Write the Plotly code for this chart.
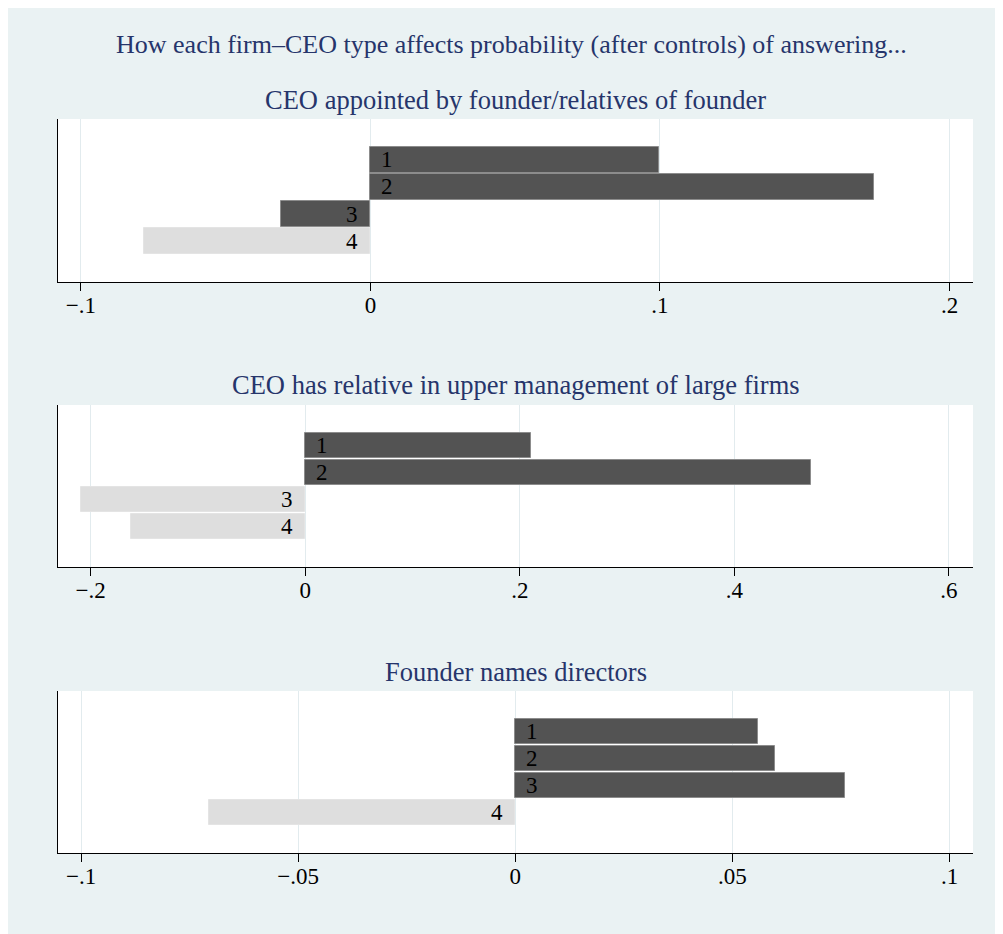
import plotly.graph_objects as go

# ---- data ----
main_title = "How each firm\u2013CEO type affects probability (after controls) of answering..."
panel_titles = [
    "CEO appointed by founder/relatives of founder",
    "CEO has relative in upper management of large firms",
    "Founder names directors",
]
categories = [1, 2, 3, 4]
values_p1 = [0.0995, 0.1739, -0.0310, -0.0782]
values_p2 = [0.2102, 0.4710, -0.2092, -0.1624]
values_p3 = [0.0559, 0.0598, 0.0759, -0.0705]
shade_p1 = ["dark", "dark", "dark", "light"]
shade_p2 = ["dark", "dark", "light", "light"]
shade_p3 = ["dark", "dark", "dark", "light"]
tickvals_p1 = [-0.1, 0, 0.1, 0.2]
ticktext_p1 = ["\u2212.1", "0", ".1", ".2"]
tickvals_p2 = [-0.2, 0, 0.2, 0.4, 0.6]
ticktext_p2 = ["\u2212.2", "0", ".2", ".4", ".6"]
tickvals_p3 = [-0.1, -0.05, 0, 0.05, 0.1]
ticktext_p3 = ["\u2212.1", "\u2212.05", "0", ".05", ".1"]
xranges = [[-0.1079, 0.2081], [-0.2305, 0.6224], [-0.1053, 0.1054]]

# ---- style ----
OFF = 8                     # page margin of the browser body
W, H = 1003 - OFF, 934 - OFF
BG = "#eaf2f3"
GRID = "#e2ebee"
NAVY = "#26356b"
FONT = "Liberation Serif, Times New Roman, serif"
FILL = {"dark": "#535353", "light": "#dedede"}
EDGE = {"dark": "#8c8c8c", "light": "#e4e4e4"}

# screen-pixel layout (top, bottom) of each plot region
panels_px = [(119, 282), (405, 567), (691, 853)]
x_left, x_right = 58, 973
title_y_px = [100, 385, 672]


def px(v):
    return v - OFF


values = [values_p1, values_p2, values_p3]
shades = [shade_p1, shade_p2, shade_p3]
tvals = [tickvals_p1, tickvals_p2, tickvals_p3]
ttext = [ticktext_p1, ticktext_p2, ticktext_p3]

fig = go.Figure()
annotations = []
layout_axes = {}

for i in range(3):
    sfx = "" if i == 0 else str(i + 1)
    xa, ya = "x" + sfx, "y" + sfx
    fig.add_trace(go.Bar(
        x=values[i], y=categories, orientation="h",
        width=0.95,
        marker=dict(color=[FILL[s] for s in shades[i]],
                    line=dict(color=[EDGE[s] for s in shades[i]], width=1)),
        xaxis=xa, yaxis=ya, showlegend=False, hoverinfo="x+y",
    ))
    top, bot = panels_px[i]
    layout_axes["xaxis" + sfx] = dict(
        domain=[px(x_left) / W, px(x_right) / W], anchor=ya,
        range=xranges[i], tickvals=tvals[i], ticktext=ttext[i],
        showgrid=True, gridcolor=GRID, gridwidth=1, zeroline=False,
        showline=True, linecolor="black", linewidth=1,
        ticks="outside", ticklen=8, tickcolor="black", tickwidth=1,
        ticklabelstandoff=-6,
        tickfont=dict(family=FONT, size=23, color="black"),
        fixedrange=True,
    )
    layout_axes["yaxis" + sfx] = dict(
        domain=[1 - px(bot) / H, 1 - px(top) / H], anchor=xa,
        range=[5.5, -0.5], showgrid=False, zeroline=False,
        showticklabels=False, ticks="",
        showline=True, linecolor="black", linewidth=1,
        fixedrange=True,
    )
    # bar number labels placed at the zero baseline, inside the bar
    for cat, v in zip(categories, values[i]):
        annotations.append(dict(
            x=0, y=cat, xref=xa, yref=ya, text=str(cat), showarrow=False,
            xanchor="left" if v >= 0 else "right",
            xshift=9 if v >= 0 else -10, yanchor="middle",
            font=dict(family=FONT, size=23, color="black"),
        ))
    annotations.append(dict(
        x=px((x_left + x_right) / 2) / W, y=1 - px(title_y_px[i]) / H,
        xref="paper", yref="paper", text=panel_titles[i], showarrow=False,
        xanchor="center", yanchor="middle",
        font=dict(family=FONT, size=26.5, color=NAVY),
    ))

annotations.append(dict(
    x=px(512) / W, y=1 - px(44) / H, xref="paper", yref="paper", text=main_title,
    showarrow=False, xanchor="center", yanchor="middle",
    font=dict(family=FONT, size=26, color=NAVY),
))

fig.update_layout(
    width=W, height=H, margin=dict(l=0, r=0, t=0, b=0),
    paper_bgcolor=BG, plot_bgcolor="white",
    bargap=0, annotations=annotations,
    font=dict(family=FONT), **layout_axes,
)

fig.write_html("out.html", config={"displayModeBar": False})
